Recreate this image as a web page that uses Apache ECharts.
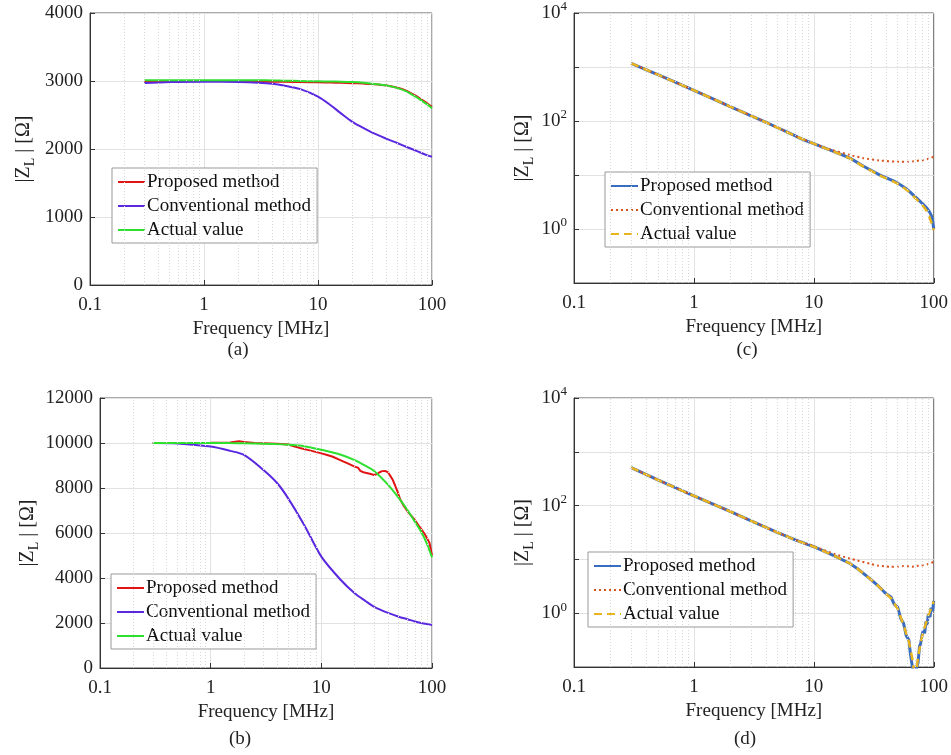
<!DOCTYPE html>
<html>
<head>
<meta charset="utf-8">
<script src="https://cdn.jsdelivr.net/npm/echarts@6/dist/echarts.min.js"></script>
<style>
  html, body { margin: 0; padding: 0; background: #fff; }
  #chart { width: 951px; height: 755px; }
</style>
</head>
<body>
<div id="chart"></div>
<script>
// (a) linear axis, small load
const freqA = [0.3, 0.5, 1, 2, 3, 4, 5, 7, 10, 13, 16, 20, 25, 30, 40, 50, 60, 70, 80, 90, 100]
const actualA = [3010, 3010, 3010, 3010, 3010, 3008, 3005, 3000, 2995, 2992, 2990, 2985, 2975, 2960, 2935, 2895, 2845, 2780, 2720, 2660, 2600]
const proposedA = [2990, 3000, 3000, 2995, 2990, 2990, 2990, 2985, 2980, 2977, 2973, 2968, 2962, 2955, 2935, 2900, 2855, 2795, 2735, 2675, 2620]
const conventionalA = [2970, 2985, 2990, 2985, 2975, 2960, 2935, 2880, 2770, 2640, 2520, 2400, 2310, 2240, 2150, 2085, 2030, 1985, 1945, 1910, 1885]

// (b) linear axis, large load
const freqB = [0.3, 0.5, 1, 1.5, 2, 3, 4, 5, 7, 10, 15, 20, 25, 30, 40, 50, 60, 70, 80, 90, 100]
const actualB = [10000, 10000, 10000, 9995, 9990, 9970, 9950, 9920, 9860, 9700, 9480, 9240, 8990, 8760, 8150, 7560, 7020, 6500, 6040, 5520, 4920]
const conventionalB = [10000, 9980, 9840, 9650, 9470, 8800, 8210, 7550, 6360, 4950, 3910, 3320, 2980, 2720, 2450, 2280, 2170, 2070, 2000, 1950, 1910]
const freqBp = [0.3, 0.5, 1, 1.5, 1.8, 2, 2.5, 3, 4, 5, 6.4, 8, 10, 11.3, 12.7, 15, 17.5, 20, 21.5, 22.5, 24, 25.6, 28, 30, 32, 33.6, 35.5, 37.6, 40, 42, 44, 46.5, 49, 51.5, 55, 59, 64, 70, 77, 85, 90, 95, 100]
const proposedB = [10000, 10000, 10010, 10020, 10080, 10040, 10000, 9990, 9970, 9930, 9780, 9660, 9540, 9470, 9390, 9230, 9080, 8950, 8900, 8760, 8700, 8670, 8620, 8580, 8620, 8700, 8750, 8760, 8700, 8540, 8380, 8100, 7820, 7500, 7240, 7020, 6800, 6580, 6280, 5990, 5780, 5550, 5000]

// (c) log axis
const freqC = [0.3, 0.5, 1, 2, 3, 5, 7.4, 10, 13.9, 20, 26, 35, 49.4, 60, 68, 80, 88, 93.6, 97, 100]
const proposedC = [1170, 720, 370, 185, 125, 75, 50, 38, 28.5, 20.5, 14.5, 10.2, 7.2, 5.4, 4.2, 3.0, 2.4, 1.95, 1.6, 1.0]
const conventionalC = [1170, 720, 370, 185, 125, 75, 50, 38, 29.5, 23.5, 20.4, 18.6, 17.6, 17.5, 18, 18.8, 19.6, 20.5, 21.2, 21.9]
const actualC = [1170, 720, 370, 185, 125, 75, 50, 38, 28.5, 20.3, 14.3, 10, 7.0, 5.2, 4.0, 2.8, 2.1, 1.5, 1.2, 0.95]

// (d) log axis
const freqD = [0.3, 0.5, 1, 2, 3, 5, 7, 10, 15, 20, 23, 30, 34, 40, 44, 50, 56, 62, 66, 70, 74, 78, 82, 90, 100]
const actualD = [510, 300, 152, 78, 52, 31.5, 23, 17.2, 11.5, 8.4, 6.8, 4.2, 3.3, 2.3, 1.9, 1.2, 0.6, 0.3, 0.15, 0.06, 0.15, 0.3, 0.46, 0.9, 1.65]
const conventionalD = [510, 300, 152, 78, 52, 31.5, 23, 17.5, 12.5, 10.4, 9.6, 8.2, 7.7, 7.4, 7.3, 7.3, 7.5, 7.4, 7.3, 7.4, 7.6, 7.7, 7.85, 8.2, 9]
const freqDp = [0.3, 0.5, 1, 2, 3, 5, 7, 10, 15, 20, 23, 30, 34, 40, 44, 47, 50, 53, 56, 59, 62, 64, 66, 68, 70, 72, 74, 76, 78, 80, 82, 84, 86, 88, 90, 93, 95, 98, 100]
const proposedD = [510, 300, 152, 78, 52, 31.5, 23, 17.2, 11.5, 8.4, 6.8, 4.2, 3.3, 2.3, 2.0, 1.45, 1.3, 0.8, 0.65, 0.38, 0.32, 0.17, 0.16, 0.07, 0.05, 0.1, 0.12, 0.24, 0.28, 0.4, 0.48, 0.42, 0.7, 0.6, 0.95, 0.85, 1.25, 1.1, 1.7]

// minor x grid positions (log decades)
const minorX = [0.2, 0.3, 0.4, 0.5, 0.6, 0.7, 0.8, 0.9, 2, 3, 4, 5, 6, 7, 8, 9, 20, 30, 40, 50, 60, 70, 80, 90]
const legendNames = ['Proposed method', 'Conventional method', 'Actual value']
const captions = ['(a)', '(b)', '(c)', '(d)']

const FONT = '"Liberation Serif", "Times New Roman", serif'

function pairs(xs, ys) {
  return xs.map((x, i) => [x, ys[i]])
}

function xAxisFor(i) {
  return {
    type: 'log', logBase: 10, gridIndex: i, min: 0.1, max: 100,
    name: 'Frequency [MHz]', nameLocation: 'middle', nameGap: 35,
    nameTextStyle: { fontFamily: FONT, fontSize: 19, color: '#222' },
    axisLine: { lineStyle: { color: '#333' } },
    axisTick: { inside: true, length: 5, lineStyle: { color: '#333' } },
    axisLabel: { fontFamily: FONT, fontSize: 19, color: '#222', margin: 11,
      formatter: v => String(+Number(v).toPrecision(3)) },
    splitLine: { show: true, lineStyle: { color: '#e2e2e2' } }
  }
}

// subscript L in the y name
const nameRich = {
  sub: { fontFamily: FONT, fontSize: 14, color: '#222', verticalAlign: 'top', padding: [12, 0, 0, 0] }
}
const yName = '|Z{sub|L} | [Ω]'

function yLinear(i, max, interval, gap) {
  return {
    type: 'value', gridIndex: i, min: 0, max, interval,
    name: yName, nameLocation: 'middle', nameRotate: 90, nameGap: gap,
    nameTextStyle: { fontFamily: FONT, fontSize: 20, color: '#222', rich: nameRich },
    axisLine: { show: true, lineStyle: { color: '#333' } },
    axisTick: { show: true, inside: true, length: 5, lineStyle: { color: '#333' } },
    axisLabel: { fontFamily: FONT, fontSize: 19, color: '#222', margin: 7, formatter: v => String(v) },
    splitLine: { show: true, lineStyle: { color: '#e2e2e2' } }
  }
}

function yLog(i, gap) {
  return {
    type: 'log', logBase: 10, gridIndex: i, min: 0.1, max: 10000,
    name: yName, nameLocation: 'middle', nameRotate: 90, nameGap: gap,
    nameTextStyle: { fontFamily: FONT, fontSize: 20, color: '#222', rich: nameRich },
    axisLine: { show: true, lineStyle: { color: '#333' } },
    axisTick: { show: true, inside: true, length: 5, lineStyle: { color: '#333' } },
    axisLabel: {
      fontFamily: FONT, fontSize: 19, color: '#222', margin: 7,
      formatter: v => {
        const e = Math.round(Math.log10(v))
        return (e >= 0 && e % 2 === 0) ? '10{sup|' + e + '}' : ''
      },
      rich: { sup: { fontFamily: FONT, fontSize: 13, color: '#222', verticalAlign: 'bottom', padding: [0, 0, 12, 0] } }
    },
    splitLine: { show: true, lineStyle: { color: '#e2e2e2' } }
  }
}

function minorGrid(i) {
  return {
    type: 'line', xAxisIndex: i, yAxisIndex: i, data: [], silent: true, z: 1,
    markLine: {
      silent: true, symbol: 'none', animation: false, label: { show: false },
      lineStyle: { color: '#d8d8d8', type: [1, 2], width: 1 },
      data: minorX.map(v => ({ xAxis: v }))
    }
  }
}

function line(key, name, i, data, color, width, type, smooth) {
  return {
    type: 'line', name: key + ':' + name, xAxisIndex: i, yAxisIndex: i,
    data, showSymbol: false, symbol: 'none', smooth, clip: true,
    lineStyle: { color, width, type, cap: 'butt' },
    itemStyle: { color }
  }
}

function legendFor(key, left, top) {
  return {
    data: legendNames.map(n => key + ':' + n),
    orient: 'vertical', left, top,
    itemWidth: 27, itemHeight: 10, itemGap: 2,
    padding: [3, 6, 2, 5],
    backgroundColor: '#fff', borderColor: '#999', borderWidth: 1,
    selectedMode: false,
    itemStyle: { opacity: 0 },
    formatter: n => n.split(':')[1],
    textStyle: { fontFamily: FONT, fontSize: 19, color: '#111', lineHeight: 22, padding: [0, 0, 0, -3] }
  }
}

const RED = '#e01414', PURPLE = '#5a28e0', GREEN = '#2ee02e'
const BLUE = '#3a6cc0', ORANGE = '#d9531e', YELLOW = '#e8b520'

const chart = echarts.init(document.getElementById('chart'), null, { renderer: 'canvas' })

chart.setOption({
  animation: false,
  backgroundColor: '#fff',
  grid: [
    { left: 90, top: 13, width: 342, height: 272, show: true, borderColor: '#555', borderWidth: 1 },
    { left: 100, top: 398, width: 332, height: 270, show: true, borderColor: '#555', borderWidth: 1 },
    { left: 574, top: 13, width: 363, height: 270, show: true, borderColor: '#555', borderWidth: 1 },
    { left: 574, top: 398, width: 363, height: 269, show: true, borderColor: '#555', borderWidth: 1 }
  ],
  xAxis: [xAxisFor(0), xAxisFor(1), xAxisFor(2), xAxisFor(3)],
  yAxis: [yLinear(0, 4000, 1000, 53), yLinear(1, 12000, 2000, 59), yLog(2, 38), yLog(3, 38)],
  legend: [
    legendFor('a', 112, 168),
    legendFor('b', 111, 574),
    legendFor('c', 605, 172),
    legendFor('d', 588, 552)
  ],
  series: [
    minorGrid(0), minorGrid(1), minorGrid(2), minorGrid(3),
    line('a', 'Proposed method', 0, pairs(freqA, proposedA), RED, 2, 'solid', 0.3),
    line('a', 'Conventional method', 0, pairs(freqA, conventionalA), PURPLE, 2, 'solid', 0.3),
    line('a', 'Actual value', 0, pairs(freqA, actualA), GREEN, 2, 'solid', 0.3),
    line('b', 'Proposed method', 1, pairs(freqBp, proposedB), RED, 2, 'solid', false),
    line('b', 'Conventional method', 1, pairs(freqB, conventionalB), PURPLE, 2, 'solid', 0.3),
    line('b', 'Actual value', 1, pairs(freqB, actualB), GREEN, 2, 'solid', 0.3),
    line('c', 'Proposed method', 2, pairs(freqC, proposedC), BLUE, 3, 'solid', 0.2),
    line('c', 'Conventional method', 2, pairs(freqC, conventionalC), ORANGE, 2, [2, 3], 0.2),
    line('c', 'Actual value', 2, pairs(freqC, actualC), YELLOW, 2.5, [8, 5], 0.2),
    line('d', 'Proposed method', 3, pairs(freqDp, proposedD), BLUE, 3, 'solid', false),
    line('d', 'Conventional method', 3, pairs(freqD, conventionalD), ORANGE, 2, [2, 3], 0.2),
    line('d', 'Actual value', 3, pairs(freqD, actualD), YELLOW, 2.5, [8, 5], false)
  ],
  graphic: [
    { type: 'text', x: 238, y: 350, style: { text: captions[0], font: '19px ' + FONT, fill: '#222', textAlign: 'center', textVerticalAlign: 'middle' } },
    { type: 'text', x: 240, y: 739, style: { text: captions[1], font: '19px ' + FONT, fill: '#222', textAlign: 'center', textVerticalAlign: 'middle' } },
    { type: 'text', x: 747, y: 350, style: { text: captions[2], font: '19px ' + FONT, fill: '#222', textAlign: 'center', textVerticalAlign: 'middle' } },
    { type: 'text', x: 745, y: 739, style: { text: captions[3], font: '19px ' + FONT, fill: '#222', textAlign: 'center', textVerticalAlign: 'middle' } }
  ]
})
</script>
</body>
</html>
